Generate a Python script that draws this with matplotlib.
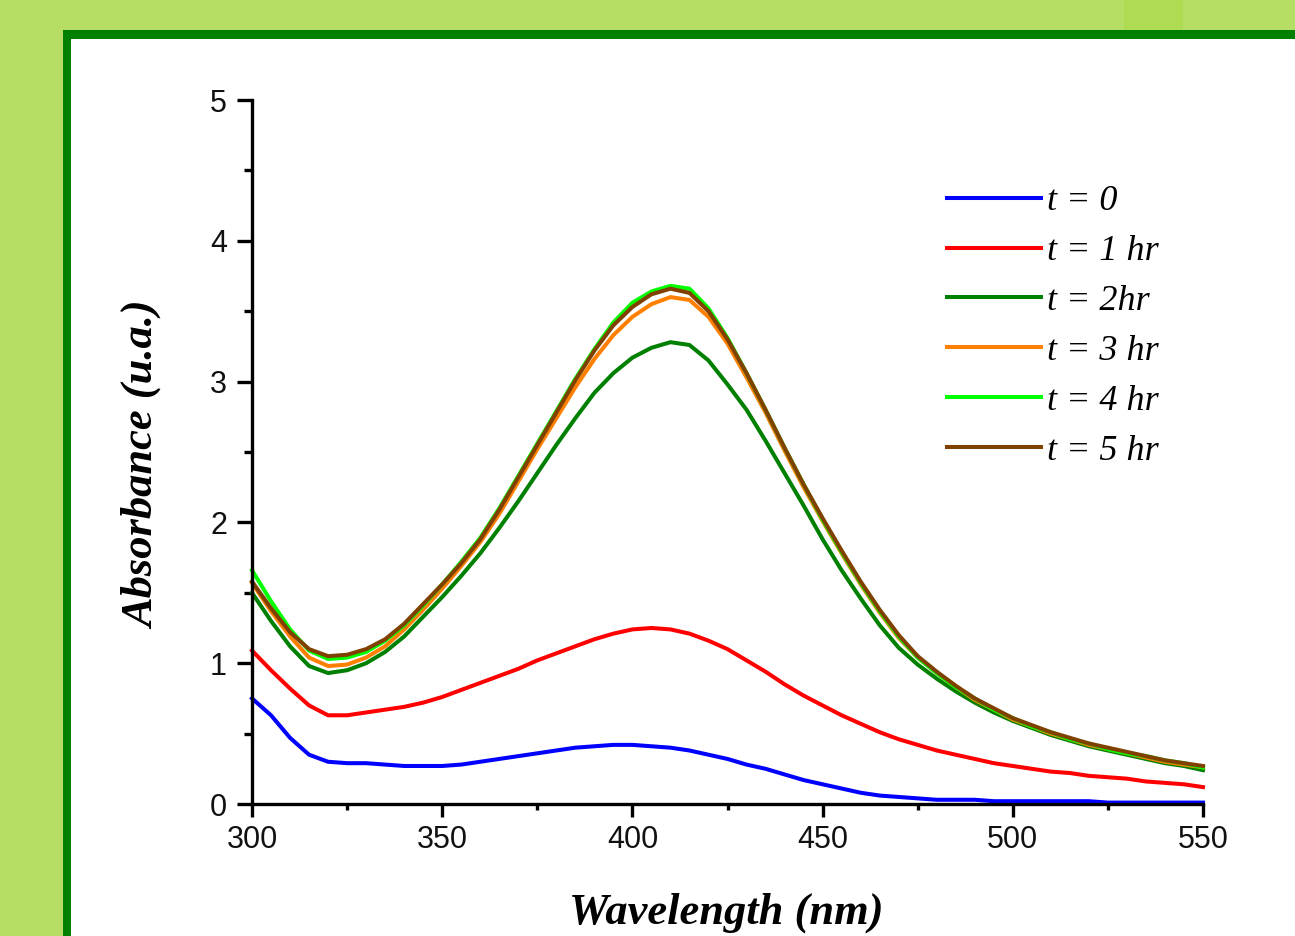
import matplotlib
matplotlib.use("Agg")
import matplotlib.pyplot as plt
from matplotlib.patches import Rectangle
from matplotlib.ticker import MultipleLocator

# ---------------- data ----------------
wavelength = list(range(300, 551, 5))

abs_t0 = [0.75, 0.63, 0.47, 0.35, 0.30, 0.29, 0.29, 0.28, 0.27, 0.27,
          0.27, 0.28, 0.30, 0.32, 0.34, 0.36, 0.38, 0.40, 0.41, 0.42,
          0.42, 0.41, 0.40, 0.38, 0.35, 0.32, 0.28, 0.25, 0.21, 0.17,
          0.14, 0.11, 0.08, 0.06, 0.05, 0.04, 0.03, 0.03, 0.03, 0.02,
          0.02, 0.02, 0.02, 0.02, 0.02, 0.01, 0.01, 0.01, 0.01, 0.01, 0.01]

abs_t1 = [1.09, 0.95, 0.82, 0.70, 0.63, 0.63, 0.65, 0.67, 0.69, 0.72,
          0.76, 0.81, 0.86, 0.91, 0.96, 1.02, 1.07, 1.12, 1.17, 1.21,
          1.24, 1.25, 1.24, 1.21, 1.16, 1.10, 1.02, 0.94, 0.85, 0.77,
          0.70, 0.63, 0.57, 0.51, 0.46, 0.42, 0.38, 0.35, 0.32, 0.29,
          0.27, 0.25, 0.23, 0.22, 0.20, 0.19, 0.18, 0.16, 0.15, 0.14, 0.12]

abs_t2 = [1.50, 1.30, 1.12, 0.98, 0.93, 0.95, 1.00, 1.08, 1.19, 1.33,
          1.47, 1.62, 1.78, 1.96, 2.15, 2.35, 2.55, 2.74, 2.92, 3.06,
          3.17, 3.24, 3.28, 3.26, 3.15, 2.98, 2.80, 2.58, 2.35, 2.12,
          1.88, 1.66, 1.46, 1.27, 1.11, 0.99, 0.89, 0.80, 0.72, 0.65,
          0.59, 0.54, 0.49, 0.45, 0.41, 0.38, 0.35, 0.32, 0.29, 0.27, 0.24]

abs_t3 = [1.57, 1.37, 1.19, 1.04, 0.98, 0.99, 1.04, 1.12, 1.24, 1.38,
          1.53, 1.69, 1.86, 2.06, 2.29, 2.52, 2.74, 2.96, 3.16, 3.33,
          3.46, 3.55, 3.60, 3.58, 3.46, 3.27, 3.03, 2.78, 2.51, 2.25,
          2.01, 1.78, 1.56, 1.36, 1.18, 1.04, 0.93, 0.83, 0.74, 0.67,
          0.60, 0.55, 0.50, 0.46, 0.42, 0.39, 0.36, 0.33, 0.30, 0.28, 0.26]

abs_t4 = [1.66, 1.44, 1.24, 1.09, 1.03, 1.04, 1.08, 1.16, 1.27, 1.41,
          1.56, 1.72, 1.89, 2.10, 2.33, 2.56, 2.79, 3.02, 3.23, 3.42,
          3.56, 3.64, 3.68, 3.66, 3.52, 3.31, 3.06, 2.80, 2.53, 2.27,
          2.02, 1.79, 1.57, 1.37, 1.19, 1.04, 0.93, 0.83, 0.75, 0.67,
          0.61, 0.55, 0.51, 0.46, 0.43, 0.39, 0.36, 0.34, 0.31, 0.29, 0.26]

abs_t5 = [1.58, 1.39, 1.22, 1.10, 1.05, 1.06, 1.10, 1.17, 1.28, 1.42,
          1.56, 1.71, 1.88, 2.09, 2.32, 2.55, 2.78, 3.01, 3.22, 3.40,
          3.53, 3.62, 3.66, 3.63, 3.50, 3.30, 3.06, 2.80, 2.53, 2.27,
          2.03, 1.80, 1.58, 1.38, 1.20, 1.05, 0.94, 0.84, 0.75, 0.68,
          0.61, 0.56, 0.51, 0.47, 0.43, 0.40, 0.37, 0.34, 0.31, 0.29, 0.27]

series = [abs_t0, abs_t1, abs_t2, abs_t3, abs_t4, abs_t5]
labels = ["t = 0", "t = 1 hr", "t = 2hr", "t = 3 hr", "t = 4 hr", "t = 5 hr"]
colors = ["#0000ff", "#ff0000", "#008000", "#ff8000", "#00ff00", "#804000"]

x_ticks = [300, 350, 400, 450, 500, 550]
y_ticks = [0, 1, 2, 3, 4, 5]

# ---------------- figure ----------------
W, H = 1295, 936
fig = plt.figure(figsize=(W / 100, H / 100), dpi=100)
fig.patch.set_facecolor("#b6de65")


def fx(px):
    return px / W


def fy(py):
    return 1 - py / H


# slightly darker block at top
fig.patches.append(Rectangle((fx(1124), fy(30)), fx(59), 30 / H,
                             transform=fig.transFigure, facecolor="#aedb52",
                             edgecolor="none", zorder=-10))
# dark green frame
fig.patches.append(Rectangle((fx(63), 0), 1 - fx(63), fy(30),
                             transform=fig.transFigure, facecolor="#008000",
                             edgecolor="none", zorder=-9))
# white panel
fig.patches.append(Rectangle((fx(71), 0), 1 - fx(71), fy(39),
                             transform=fig.transFigure, facecolor="white",
                             edgecolor="none", zorder=-8))

ax = fig.add_axes([fx(252), fy(804), fx(1203) - fx(252), fy(100) - fy(804)])
ax.set_zorder(2)
ax.set_facecolor("none")

for vals, lab, col in zip(series, labels, colors):
    ax.plot(wavelength, vals, color=col, lw=2.9, label=lab,
            solid_joinstyle="round", clip_on=False)

ax.set_xlim(300, 550)
ax.set_ylim(0, 5)
ax.set_xticks(x_ticks)
ax.set_yticks(y_ticks)
ax.xaxis.set_minor_locator(MultipleLocator(25))
ax.yaxis.set_minor_locator(MultipleLocator(0.5))

for side in ["top", "right"]:
    ax.spines[side].set_visible(False)
for side in ["left", "bottom"]:
    ax.spines[side].set_linewidth(2.4)
    ax.spines[side].set_color("black")

ax.tick_params(axis="both", which="major", direction="out", width=2.4,
               labelsize=22, color="black")
ax.tick_params(axis="y", which="major", length=11, pad=7)
ax.tick_params(axis="x", which="major", length=9, pad=6)
ax.tick_params(axis="y", which="minor", direction="out", length=6, width=2.4)
ax.tick_params(axis="x", which="minor", direction="out", length=4, width=2.4)
for t in ax.get_xticklabels() + ax.get_yticklabels():
    t.set_fontfamily(["Liberation Sans", "DejaVu Sans"])
    t.set_color("#111111")

label_font = dict(family=["Liberation Serif", "DejaVu Serif"],
                  style="italic", weight="bold", size=32)
fig.text(fx(726), fy(913), "Wavelength (nm)", ha="center", va="center",
         zorder=3, **label_font)
fig.text(fx(143), fy(465), "Absorbance (u.a.)", ha="center", va="center",
         rotation=90, zorder=3, **label_font)

leg = ax.legend(loc="upper left",
                bbox_to_anchor=(fx(947), fy(185)),
                bbox_transform=fig.transFigure,
                frameon=False, borderpad=0, borderaxespad=0,
                handlelength=2.6, handletextpad=0.17, labelspacing=0.46,
                prop=dict(family=["Liberation Serif", "DejaVu Serif"],
                          style="italic", size=26))
for line in leg.get_lines():
    line.set_linewidth(2.9)

fig.savefig("out.png", dpi=100, facecolor=fig.get_facecolor())
